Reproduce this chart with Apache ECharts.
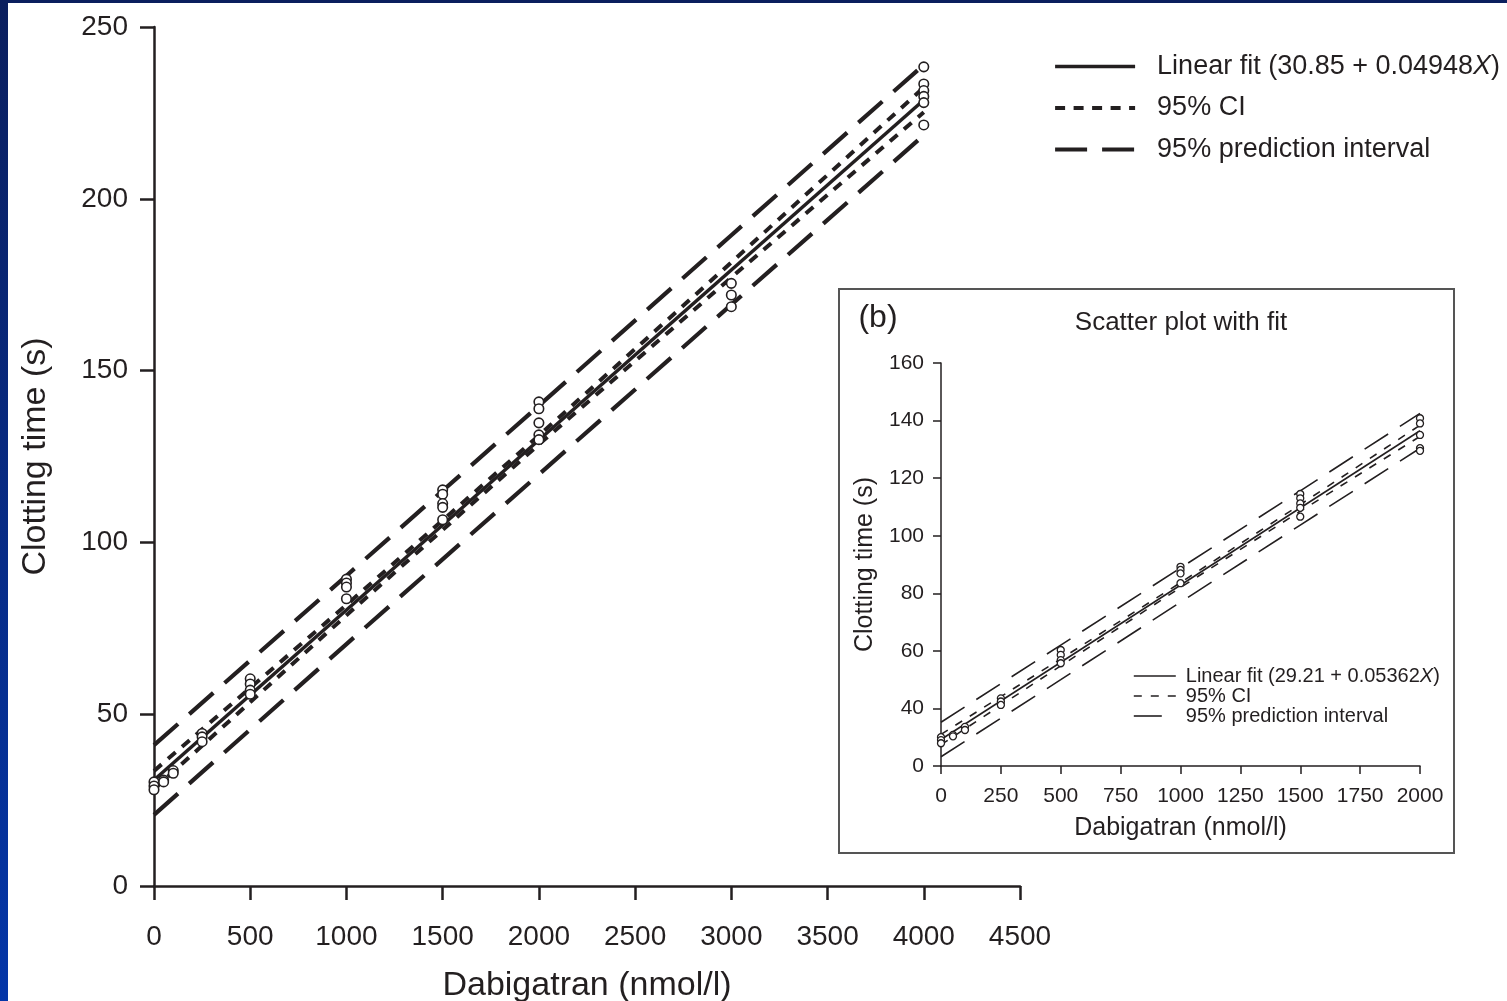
<!DOCTYPE html>
<html><head><meta charset="utf-8">
<script src="https://cdn.jsdelivr.net/npm/echarts@6/dist/echarts.min.js"></script>
<style>html,body{margin:0;padding:0;background:#fff}#c{width:1507px;height:1001px}</style>
</head><body><div id="c"></div>
<script>
// ---------- Main panel data ----------
const mainDoseX = [0,0,0, 50,50, 100,100, 250,250,250, 500,500,500,500, 1000,1000,1000,1000,
  1500,1500,1500,1500,1500, 2000,2000,2000,2000,2000, 3000,3000,3000, 4000,4000,4000,4000,4000,4000];
const mainTimeY = [30.3,29.1,28.0, 30.8,30.3, 33.6,32.8, 44.4,43.4,42.0, 60.3,58.8,57.0,55.8, 89.3,88.2,87.0,83.6,
  115.3,114.0,111.3,110.2,106.6, 140.9,138.9,134.8,131.3,129.9, 175.4,172.0,168.6, 238.4,233.4,231.5,229.8,228.0,221.5];
const mainFitX = [0, 4000];
const mainFitY = [30.85, 228.77];
const mainBandX = [0, 1000, 2000, 3000, 4000];
const mainCIUpper = [33.5, 81.8, 131.1, 181.5, 232.4];
const mainCILower = [28.2, 78.8, 128.5, 177.1, 225.2];
const mainPIUpper = [41.0, 90.3, 139.8, 189.4, 239.0];
const mainPILower = [20.7, 70.4, 119.8, 169.2, 218.5];
const mainNames = ['Linear fit (30.85 + 0.04948X)', '95% CI', '95% prediction interval'];

// ---------- Inset panel data ----------
const insetDoseX = [0,0,0, 50,50, 100,100, 250,250,250, 500,500,500,500, 1000,1000,1000,1000,
  1500,1500,1500,1500,1500, 2000,2000,2000,2000,2000];
const insetTimeY = [30.0,29.0,27.9, 30.8,30.3, 33.6,32.5, 43.5,42.4,41.2, 60.3,58.6,56.8,55.7, 89.2,88.1,86.9,83.5,
  114.5,113.0,111.2,109.7,106.6, 140.8,139.0,135.0,130.4,129.5];
const insetFitX = [0, 2000];
const insetFitY = [29.21, 136.45];
const insetBandX = [0, 500, 1000, 1500, 2000];
const insetCIUpper = [31.0, 57.2, 83.7, 110.8, 138.4];
const insetCILower = [27.4, 54.8, 82.0, 108.5, 134.5];
const insetPIUpper = [35.2, 62.0, 88.8, 115.6, 142.5];
const insetPILower = [23.2, 50.0, 76.9, 103.7, 130.4];
const insetNames = ['Linear fit (29.21 + 0.05362X)', '95% CI ', '95% prediction interval '];
const insetYTicks = [20, 40, 60, 80, 100, 120, 140, 160];
const insetYLabels = ['0', '40', '60', '80', '100', '120', '140', '160'];

const zip = (xs, ys) => xs.map((x, i) => [x, ys[i]]);
const INK = '#231f20';
const FONT = '"Liberation Sans", Arial, Helvetica, sans-serif';
const plain = v => String(v);

// line styles
const MAIN_FIT = { width: 3.5, type: 'solid' };
const MAIN_CI = { width: 4, type: [10, 8.5] };
const MAIN_PI = { width: 4.2, type: [32, 15] };
const INSET_FIT = { width: 1.6, type: 'solid' };
const INSET_CI = { width: 1.6, type: [8, 9] };
const INSET_PI = { width: 1.6, type: [28, 14] };

function lineSeries(name, xs, ys, axis, st) {
  return { type: 'line', name, data: zip(xs, ys), xAxisIndex: axis, yAxisIndex: axis,
    symbol: 'none', showSymbol: false, silent: true, animation: false, z: 2,
    itemStyle: { color: INK },
    lineStyle: { color: INK, width: st.width, type: st.type } };
}
function scatterSeries(xs, ys, axis, size, bw) {
  return { type: 'scatter', name: 'pts' + axis, data: zip(xs, ys), xAxisIndex: axis, yAxisIndex: axis,
    symbol: 'circle', symbolSize: size, animation: false, z: 5,
    itemStyle: { color: '#fff', borderColor: INK, borderWidth: bw, opacity: 1 } };
}
function legendFormatter(name) {
  const k = name.indexOf('X)');
  if (k > 0) return '{n|' + name.slice(0, k) + '}{i|X}{n|)}';
  return '{n|' + name + '}';
}
const hiddenSymbol = { color: 'rgba(0,0,0,0)', borderWidth: 0, borderColor: 'rgba(0,0,0,0)' };
function legendItem(name, st) {
  return { name, itemStyle: hiddenSymbol, lineStyle: { color: INK, width: st.width, type: st.type } };
}

const chart = echarts.init(document.getElementById('c'), null, { renderer: 'canvas' });

const mainAxisCommon = {
  axisLine: { show: true, onZero: false, lineStyle: { color: INK, width: 2.5 } },
  axisTick: { show: true, length: 14, lineStyle: { color: INK, width: 2.5 } },
  splitLine: { show: false },
  nameLocation: 'middle',
};
const insetAxisCommon = {
  axisLine: { show: true, onZero: false, lineStyle: { color: INK, width: 1.5 } },
  axisTick: { show: true, length: 8, lineStyle: { color: INK, width: 1.5 } },
  splitLine: { show: false },
  nameLocation: 'middle',
};

const option = {
  backgroundColor: '#fff',
  animation: false,
  textStyle: { fontFamily: FONT, color: INK },
  grid: [
    { left: 154, top: 27, width: 866, height: 859, containLabel: false, outerBoundsMode: 'none' },
    { left: 941, top: 363, width: 479, height: 403, containLabel: false, outerBoundsMode: 'none' }
  ],
  xAxis: [
    Object.assign({}, mainAxisCommon, { gridIndex: 0, type: 'value', min: 0, max: 4500, interval: 500,
      name: 'Dabigatran (nmol/l)', nameGap: 100,
      nameTextStyle: { fontSize: 34, color: INK, fontFamily: FONT, verticalAlign: 'middle' },
      axisLabel: { fontSize: 28, color: INK, fontFamily: FONT, margin: 37, formatter: plain } }),
    Object.assign({}, insetAxisCommon, { gridIndex: 1, type: 'value', min: 0, max: 2000, interval: 250,
      name: 'Dabigatran (nmol/l)', nameGap: 62,
      nameTextStyle: { fontSize: 25, color: INK, fontFamily: FONT, verticalAlign: 'middle' },
      axisLabel: { fontSize: 21, color: INK, fontFamily: FONT, margin: 20, formatter: plain } })
  ],
  yAxis: [
    Object.assign({}, mainAxisCommon, { gridIndex: 0, type: 'value', min: 0, max: 250, interval: 50,
      name: 'Clotting time (s)', nameGap: 118, nameRotate: 90,
      nameTextStyle: { fontSize: 34, color: INK, fontFamily: FONT, verticalAlign: 'middle' },
      axisLabel: { fontSize: 28, color: INK, fontFamily: FONT, margin: 26, formatter: plain } }),
    Object.assign({}, insetAxisCommon, { gridIndex: 1, type: 'value', min: 20, max: 160, interval: 20,
      name: 'Clotting time (s)', nameGap: 76, nameRotate: 90,
      nameTextStyle: { fontSize: 25, color: INK, fontFamily: FONT, verticalAlign: 'middle' },
      axisLabel: { fontSize: 21, color: INK, fontFamily: FONT, margin: 17,
        formatter: v => { const i = insetYTicks.indexOf(v); return i >= 0 ? insetYLabels[i] : ''; } } })
  ],
  legend: [
    { data: [legendItem(mainNames[0], MAIN_FIT), legendItem(mainNames[1], MAIN_CI), legendItem(mainNames[2], MAIN_PI)],
      orient: 'vertical', left: 1053, top: 53, itemWidth: 80, itemHeight: 26, itemGap: 14.5,
      padding: 0, selectedMode: false, formatter: legendFormatter, itemStyle: hiddenSymbol,
      textStyle: { padding: [0, 0, 0, 17], rich: {
        n: { fontSize: 27, color: INK, fontFamily: FONT },
        i: { fontSize: 27, color: INK, fontFamily: FONT, fontStyle: 'italic' } } } },
    { data: [legendItem(insetNames[0], INSET_FIT), legendItem(insetNames[1], INSET_CI), legendItem(insetNames[2], INSET_PI)],
      orient: 'vertical', left: 1133, top: 666, itemWidth: 42, itemHeight: 22, itemGap: 0,
      padding: 0, selectedMode: false, formatter: legendFormatter, itemStyle: hiddenSymbol,
      textStyle: { padding: [0, 0, 0, 5], rich: {
        n: { fontSize: 20, color: INK, fontFamily: FONT },
        i: { fontSize: 20, color: INK, fontFamily: FONT, fontStyle: 'italic' } } } }
  ],
  graphic: { elements: [
    { type: 'rect', z: -1, silent: true, shape: { x: 839, y: 289, width: 615, height: 564 },
      style: { fill: 'none', stroke: '#555', lineWidth: 2 } },
    { type: 'text', z: 10, silent: true, x: 878, y: 318,
      style: { text: '(b)', fontSize: 32, fontFamily: FONT, fill: INK, align: 'center', verticalAlign: 'middle' } },
    { type: 'text', z: 10, silent: true, x: 1181, y: 323,
      style: { text: 'Scatter plot with fit', fontSize: 26, fontFamily: FONT, fill: INK, align: 'center', verticalAlign: 'middle' } },
    { type: 'rect', z: 100, silent: true, shape: { x: 0, y: 0, width: 8, height: 1001 },
      style: { fill: new echarts.graphic.LinearGradient(0, 0, 0, 1, [
        { offset: 0, color: '#0b1f5e' }, { offset: 1, color: '#0436a8' }]) } },
    { type: 'rect', z: 100, silent: true, shape: { x: 0, y: 0, width: 1507, height: 3 },
      style: { fill: '#0b1f5e' } }
  ] },
  series: [
    lineSeries(mainNames[0], mainFitX, mainFitY, 0, MAIN_FIT),
    lineSeries(mainNames[1], mainBandX, mainCIUpper, 0, MAIN_CI),
    lineSeries(mainNames[1], mainBandX, mainCILower, 0, MAIN_CI),
    lineSeries(mainNames[2], mainBandX, mainPIUpper, 0, MAIN_PI),
    lineSeries(mainNames[2], mainBandX, mainPILower, 0, MAIN_PI),
    scatterSeries(mainDoseX, mainTimeY, 0, 9.5, 1.6),
    lineSeries(insetNames[0], insetFitX, insetFitY, 1, INSET_FIT),
    lineSeries(insetNames[1], insetBandX, insetCIUpper, 1, INSET_CI),
    lineSeries(insetNames[1], insetBandX, insetCILower, 1, INSET_CI),
    lineSeries(insetNames[2], insetBandX, insetPIUpper, 1, INSET_PI),
    lineSeries(insetNames[2], insetBandX, insetPILower, 1, INSET_PI),
    scatterSeries(insetDoseX, insetTimeY, 1, 7, 1.3)
  ]
};
chart.setOption(option);
</script>
</body></html>
